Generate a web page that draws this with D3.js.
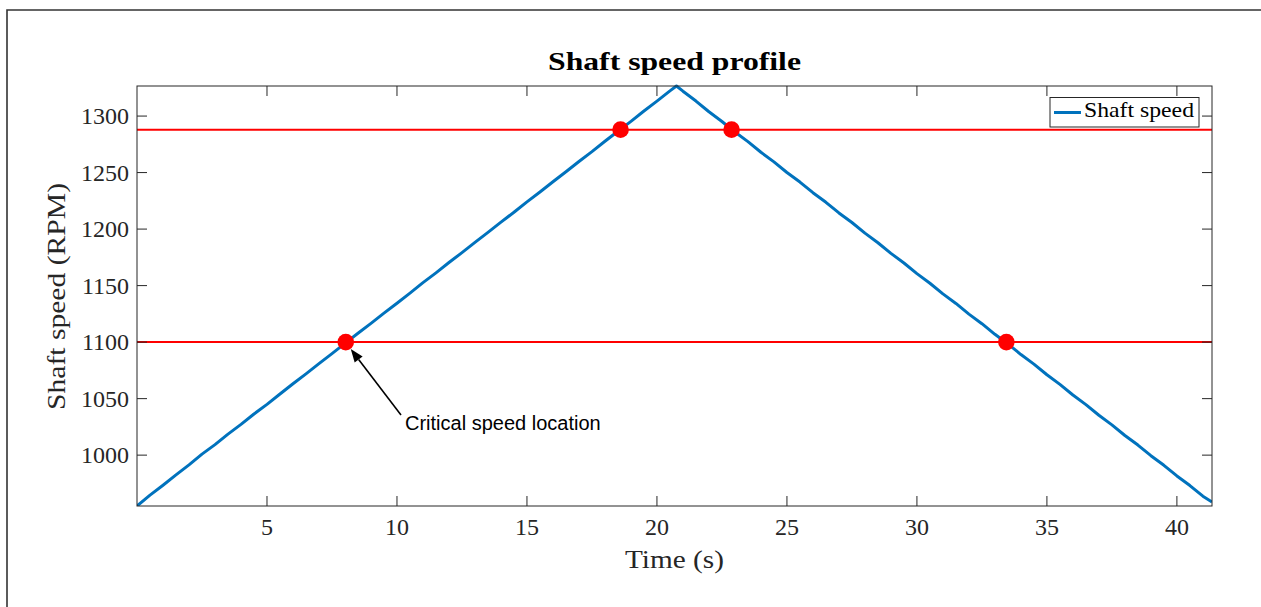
<!DOCTYPE html>
<html>
<head>
<meta charset="utf-8">
<script src="https://cdn.jsdelivr.net/npm/d3@7/dist/d3.min.js"></script>
<style>
  html, body { margin: 0; padding: 0; background: #ffffff; }
  svg { display: block; }
</style>
</head>
<body>
<script>
// Shaft speed ramp-up / ramp-down record (time in s, speed in RPM)
const timeS = [
  0, 0.5, 1, 1.5, 2, 2.5, 3, 3.5, 4, 4.5, 5, 5.5, 6, 6.5, 7, 7.5, 8, 8.5, 9, 9.5,
  10, 10.5, 11, 11.5, 12, 12.5, 13, 13.5, 14, 14.5, 15, 15.5, 16, 16.5, 17, 17.5,
  18, 18.5, 19, 19.5, 20, 20.5, 20.75,
  21, 21.5, 22, 22.5, 23, 23.5, 24, 24.5, 25, 25.5, 26, 26.5, 27, 27.5, 28, 28.5,
  29, 29.5, 30, 30.5, 31, 31.5, 32, 32.5, 33, 33.5, 34, 34.5, 35, 35.5, 36, 36.5,
  37, 37.5, 38, 38.5, 39, 39.5, 40, 40.5, 41, 41.35
];
const speedRPM = [
  955.0, 964.6, 973.4, 982.6, 991.4, 1000.9, 1009.3, 1018.6, 1027.2, 1036.4,
  1044.9, 1054.1, 1063.2, 1071.9, 1081.0, 1089.8, 1098.9, 1107.8, 1116.6, 1125.7,
  1134.4, 1143.3, 1152.6, 1161.3, 1170.4, 1179.2, 1188.3, 1197.1, 1206.2, 1214.9,
  1224.1, 1232.8, 1241.9, 1250.7, 1259.8, 1268.5, 1277.7, 1286.6, 1295.3, 1304.5,
  1313.2, 1322.3, 1326.6,
  1322.0, 1313.3, 1303.8, 1295.2, 1285.9, 1277.4, 1268.0, 1259.5, 1250.1, 1241.6,
  1232.2, 1223.7, 1214.3, 1205.8, 1196.4, 1187.9, 1178.5, 1170.0, 1160.6, 1152.1,
  1142.7, 1134.2, 1124.8, 1116.3, 1106.9, 1098.4, 1089.0, 1080.5, 1071.1, 1062.6,
  1053.2, 1044.7, 1035.3, 1026.8, 1017.4, 1008.9, 999.5, 991.0, 981.6, 973.1,
  963.7, 958.6
];

// Critical speed bands and the times the profile crosses them
const criticalLevels = [1100, 1288];
const crossingTimes = [8.03, 18.6, 22.87, 33.44];
const crossingSpeeds = [1100, 1288, 1288, 1100];

// Axis ticks
const xTicks = [5, 10, 15, 20, 25, 30, 35, 40];
const yTicks = [1000, 1050, 1100, 1150, 1200, 1250, 1300];

const W = 1261, H = 607;
const plot = { left: 137, right: 1212, top: 86, bottom: 506 };
const axisColor = "#262626";
const serif = "'Liberation Serif', 'Times New Roman', serif";

const svg = d3.select("body").append("svg")
  .attr("width", W).attr("height", H);

// figure frame
svg.append("path")
  .attr("d", "M7,607 L7,10 L1261,10")
  .attr("fill", "none").attr("stroke", "#333").attr("stroke-width", 1.6);

const x = d3.scaleLinear().domain([0, 41.35]).range([plot.left, plot.right]);
const y = d3.scaleLinear().domain([955, 1326.6]).range([plot.bottom, plot.top]);

const clipId = "plot-clip";
svg.append("clipPath").attr("id", clipId).append("rect")
  .attr("x", plot.left).attr("y", plot.top - 4)
  .attr("width", plot.right - plot.left).attr("height", plot.bottom - plot.top + 4);

// critical speed levels
svg.append("g").selectAll("line").data(criticalLevels).join("line")
  .attr("x1", plot.left).attr("x2", plot.right)
  .attr("y1", d => y(d)).attr("y2", d => y(d))
  .attr("stroke", "#ff0000").attr("stroke-width", 2);

// speed profile
const pts = timeS.map((t, i) => [t, speedRPM[i]]);
svg.append("path")
  .datum(pts)
  .attr("clip-path", `url(#${clipId})`)
  .attr("fill", "none")
  .attr("stroke", "#0072BD")
  .attr("stroke-width", 3)
  .attr("stroke-linejoin", "round")
  .attr("d", d3.line().x(d => x(d[0])).y(d => y(d[1])));

// crossing markers
svg.append("g").selectAll("circle").data(crossingTimes).join("circle")
  .attr("cx", d => x(d))
  .attr("cy", (d, i) => y(crossingSpeeds[i]))
  .attr("r", 8.3)
  .attr("fill", "#ff0000");

// axes box and ticks (inward, all four sides)
const axes = svg.append("g").attr("stroke", axisColor).attr("stroke-width", 1);
axes.append("rect")
  .attr("x", plot.left).attr("y", plot.top)
  .attr("width", plot.right - plot.left).attr("height", plot.bottom - plot.top)
  .attr("fill", "none");
const tl = 10;
xTicks.forEach(t => {
  axes.append("line").attr("x1", x(t)).attr("x2", x(t))
    .attr("y1", plot.bottom).attr("y2", plot.bottom - tl);
  axes.append("line").attr("x1", x(t)).attr("x2", x(t))
    .attr("y1", plot.top).attr("y2", plot.top + tl);
});
yTicks.forEach(v => {
  axes.append("line").attr("x1", plot.left).attr("x2", plot.left + tl)
    .attr("y1", y(v)).attr("y2", y(v));
  axes.append("line").attr("x1", plot.right).attr("x2", plot.right - tl)
    .attr("y1", y(v)).attr("y2", y(v));
});

// tick labels
svg.append("g").selectAll("text").data(xTicks).join("text")
  .attr("x", d => x(d)).attr("y", 535)
  .attr("text-anchor", "middle")
  .attr("font-family", serif).attr("font-size", 24)
  .attr("fill", axisColor)
  .text(d => d);
svg.append("g").selectAll("text").data(yTicks).join("text")
  .attr("x", 129).attr("y", d => y(d)).attr("dy", "0.34em")
  .attr("text-anchor", "end")
  .attr("font-family", serif).attr("font-size", 24)
  .attr("fill", axisColor)
  .text(d => d);

// title and axis labels
svg.append("text")
  .attr("x", 548).attr("y", 69.5)
  .attr("font-family", serif).attr("font-size", 26).attr("font-weight", "bold")
  .attr("fill", "#000")
  .attr("textLength", 253).attr("lengthAdjust", "spacingAndGlyphs")
  .text("Shaft speed profile");
svg.append("text")
  .attr("x", 625).attr("y", 568)
  .attr("font-family", serif).attr("font-size", 26)
  .attr("fill", axisColor)
  .attr("textLength", 99).attr("lengthAdjust", "spacingAndGlyphs")
  .text("Time (s)");
svg.append("text")
  .attr("transform", "translate(65,410) rotate(-90)")
  .attr("font-family", serif).attr("font-size", 26)
  .attr("fill", axisColor)
  .attr("textLength", 227).attr("lengthAdjust", "spacingAndGlyphs")
  .text("Shaft speed (RPM)");

// legend
const lg = svg.append("g");
lg.append("rect")
  .attr("x", 1050).attr("y", 97.5).attr("width", 149).attr("height", 29.5)
  .attr("fill", "#fff").attr("stroke", axisColor).attr("stroke-width", 1);
lg.append("line")
  .attr("x1", 1054).attr("x2", 1081).attr("y1", 112.5).attr("y2", 112.5)
  .attr("stroke", "#0072BD").attr("stroke-width", 3);
lg.append("text")
  .attr("x", 1084).attr("y", 117)
  .attr("font-family", serif).attr("font-size", 21)
  .attr("fill", "#000")
  .attr("textLength", 110).attr("lengthAdjust", "spacingAndGlyphs")
  .text("Shaft speed");

// annotation arrow pointing at the first crossing
const tip = [x(crossingTimes[0]) + 5, y(crossingSpeeds[0]) + 7];
const tail = [401, 415];
const ang = Math.atan2(tip[1] - tail[1], tip[0] - tail[0]);
const headLen = 13, headHalf = 5;
const base = [tip[0] - headLen * Math.cos(ang), tip[1] - headLen * Math.sin(ang)];
svg.append("line")
  .attr("x1", tail[0]).attr("y1", tail[1])
  .attr("x2", base[0]).attr("y2", base[1])
  .attr("stroke", "#000").attr("stroke-width", 1.6);
svg.append("path")
  .attr("d", d3.line()([
    tip,
    [base[0] + headHalf * Math.sin(ang), base[1] - headHalf * Math.cos(ang)],
    [base[0] - headHalf * Math.sin(ang), base[1] + headHalf * Math.cos(ang)]
  ]) + "Z")
  .attr("fill", "#000");
svg.append("text")
  .attr("x", 405).attr("y", 430)
  .attr("font-family", "'Liberation Sans', Arial, sans-serif").attr("font-size", 20)
  .attr("fill", "#000")
  .text("Critical speed location");
</script>
</body>
</html>
